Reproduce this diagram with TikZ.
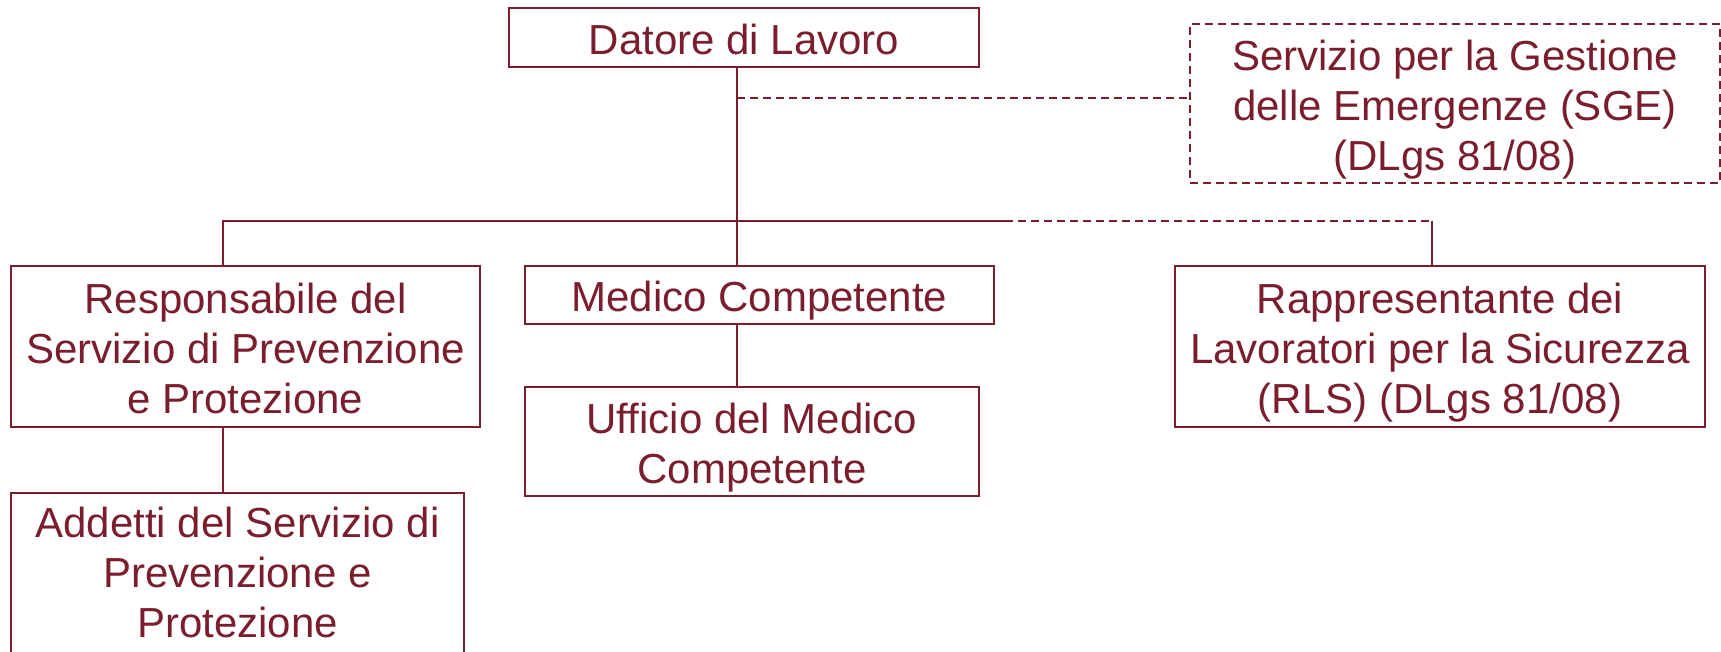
\documentclass[tikz,border=0pt]{standalone}
\usepackage{fontspec}
\setmainfont{Liberation Sans}
\definecolor{maroon}{RGB}{122,30,46}
\begin{document}
\begin{tikzpicture}[x=0.75pt,y=-0.75pt,
  box/.style={draw=maroon, line width=1.4pt, inner sep=0pt, align=center, text=maroon,
    font=\fontsize{31.5}{37.5}\selectfont, text depth=0pt},
  one/.style={text height=25pt},
  two/.style={text height=62.5pt},
  three/.style={text height=100pt},
  dbox/.style={box, dash pattern=on 6pt off 3.75pt},
  link/.style={draw=maroon, line width=1.4pt},
  dlink/.style={link, dash pattern=on 6pt off 3.75pt}]
\useasboundingbox (0,0) rectangle (1721,651);

\node[box, one, minimum width=352.5pt, minimum height=44.25pt] (datore) at (744,37.5) {Datore di Lavoro};
\node[dbox, three, minimum width=397.5pt, minimum height=119.25pt] (sge) at (1455,103.5)
  {Servizio per la Gestione\\delle Emergenze (SGE)\\(DLgs 81/08)};
\node[box, three, minimum width=351.75pt, minimum height=120.75pt] (rspp) at (245.5,346.5)
  {Responsabile del\\Servizio di Prevenzione\\e Protezione};
\node[box, one, minimum width=351.75pt, minimum height=43.5pt] (medico) at (759.5,295) {Medico Competente};
\node[box, two, minimum width=340.5pt, minimum height=81.75pt] (ufficio) at (752,441.5)
  {Ufficio del Medico\\Competente};
\node[box, three, minimum width=397.5pt, minimum height=120.75pt] (rls) at (1440,346.5)
  {Rappresentante dei\\Lavoratori per la Sicurezza\\(RLS) (DLgs 81/08)};
\node[box, text height=108.75pt, text depth=21pt, minimum width=339.75pt, anchor=north] (addetti) at (237.5,492)
  {Addetti del Servizio di\\Prevenzione e\\Protezione};

\coordinate (trunk) at (737,98);
\coordinate (busL) at (223,221);
\coordinate (busM) at (1005,221);
\coordinate (busR) at (1432,221);

% trunk
\draw[link] (datore.south -| trunk) -- (medico.north -| trunk);
% dashed link to SGE
\draw[dlink] (trunk) -- (trunk -| sge.west);
% bus
\draw[link] (rspp.north -| busL) -- (busL) -- (busM);
\draw[dlink] (busM) -- (busR);
\draw[link] (busR) -- (rls.north -| busR);
% lower connectors
\draw[link] (rspp.south -| busL) -- (addetti.north -| busL);
\draw[link] (medico.south -| trunk) -- (ufficio.north -| trunk);
\end{tikzpicture}
\end{document}
